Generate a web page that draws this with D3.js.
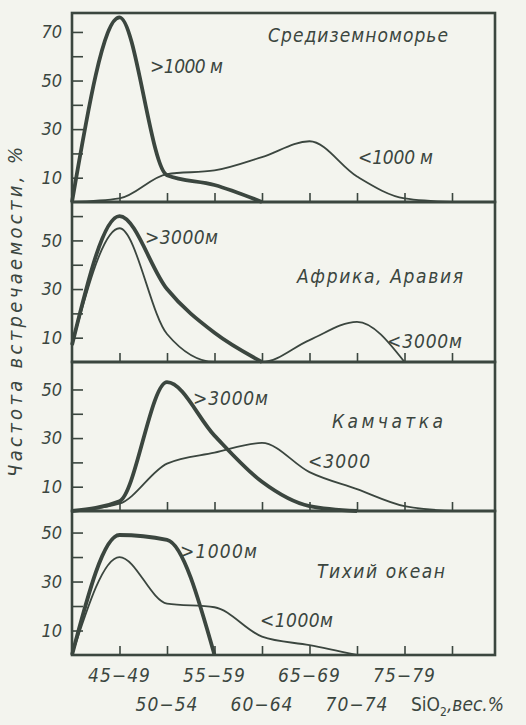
<!DOCTYPE html>
<html>
<head>
<meta charset="utf-8">
<script src="https://cdn.jsdelivr.net/npm/d3@7"></script>
<style>
body { margin: 0; background: #f3f4ee; }
text { font-family: "DejaVu Sans Condensed", "DejaVu Sans", sans-serif; font-style: italic; fill: #3b463f; }
</style>
</head>
<body>
<script>
// SiO2 classes, index 0 sits on the left edge of the frame
let classes = ["40-44", "45-49", "50-54", "55-59", "60-64", "65-69", "70-74", "75-79", "80-84"];
let tickLabels = ["45−49", "50−54", "55−59", "60−64", "65−69", "70−74", "75−79"];

let regions = ["Средиземноморье", "Африка, Аравия", "Камчатка", "Тихий океан"];
let deepLabels = [">1000 м", ">3000м", ">3000м", ">1000м"];
let shallowLabels = ["<1000 м", "<3000м", "<3000", "<1000м"];

// frequency, %  (thick = deep, thin = shallow)
let medDeep    = [0, 76, 11, 7, 0];
let medShallow = [0, 1.5, 11.5, 13, 18.5, 25, 10.5, 1.5, 0];
let afrDeep    = [7, 60, 30, 12, 0];
let afrShallow = [7, 55, 11.5, 0, 0, 9, 16.5, 0];
let kamDeep    = [0, 4, 53, 31, 12, 2, 0];
let kamShallow = [0, 3, 19.5, 24, 28, 16, 9, 2, 0];
let pacDeep    = [0, 49, 47, 0];
let pacShallow = [0, 40, 21, 19.5, 7.5, 4, 0];

let deepSeries = [medDeep, afrDeep, kamDeep, pacDeep];
let shallowSeries = [medShallow, afrShallow, kamShallow, pacShallow];

let yTicks = [[10, 20, 30, 40, 50, 60, 70],
              [10, 20, 30, 40, 50, 60],
              [10, 20, 30, 40, 50],
              [10, 20, 30, 40, 50]];
let yMax = [77.8, 65.8, 61.3, 58.8];

// layout
let width = 526, height = 725;
let ink = "#3b463f";
let frameLeft = 72, frameRight = 495;
let bounds = [13, 202, 362, 511, 655];
let titlePos   = [[268, 42, 180], [297, 283, 166], [332, 428, 111], [317, 578, 128]];
let deepPos    = [[150, 73, 73], [145, 244, 73], [193, 405, 75], [180, 558, 77]];
let shallowPos = [[358, 164, 75], [387, 348, 75], [308, 468, 62], [260, 627, 73]];

let svg = d3.select("body").append("svg")
  .attr("width", width)
  .attr("height", height);

svg.append("rect").attr("width", width).attr("height", height).attr("fill", "#f3f4ee");

let x = d3.scaleLinear().domain([0, 8]).range([72, 452]);

regions.forEach(function(name, p) {
  let top = bounds[p], bottom = bounds[p + 1];
  let y = d3.scaleLinear().domain([0, yMax[p]]).range([bottom, top]);
  let g = svg.append("g");

  // y ticks point inward, labels only on odd tens
  let ya = g.append("g")
    .attr("transform", "translate(" + frameLeft + ",0)")
    .call(d3.axisLeft(y).tickValues(yTicks[p]).tickSize(-11).tickPadding(10)
      .tickFormat(d => d % 20 === 10 ? d : ""));
  ya.attr("font-family", null).attr("font-size", null);
  ya.select(".domain").remove();
  ya.selectAll("line").attr("stroke", ink).attr("stroke-width", 1.6);
  ya.selectAll("text")
    .attr("font-size", 18)
    .style("font-style", "italic")
    .style("font-family", '"DejaVu Sans Condensed", "DejaVu Sans", sans-serif')
    .attr("fill", ink);

  // x ticks on the bottom edge
  let xa = g.append("g")
    .attr("transform", "translate(0," + bottom + ")")
    .call(d3.axisBottom(x).tickValues(d3.range(1, 9)).tickSize(-9).tickFormat(""));
  xa.select(".domain").remove();
  xa.selectAll("line").attr("stroke", ink).attr("stroke-width", 1.6);

  let line = d3.line()
    .x((d, i) => x(i))
    .y(d => y(d))
    .curve(d3.curveMonotoneX);

  g.append("path")
    .attr("d", line(shallowSeries[p]))
    .attr("fill", "none").attr("stroke", ink).attr("stroke-width", 1.8);
  g.append("path")
    .attr("d", line(deepSeries[p]))
    .attr("fill", "none").attr("stroke", ink).attr("stroke-width", 3.8)
    .attr("stroke-linejoin", "round");

  g.append("rect")
    .attr("x", frameLeft).attr("y", top)
    .attr("width", frameRight - frameLeft).attr("height", bottom - top)
    .attr("fill", "none").attr("stroke", ink).attr("stroke-width", 2.6);

  g.append("text").text(name)
    .attr("x", titlePos[p][0]).attr("y", titlePos[p][1])
    .attr("textLength", titlePos[p][2])
    .attr("font-size", 19);
  g.append("text").text(deepLabels[p])
    .attr("x", deepPos[p][0]).attr("y", deepPos[p][1])
    .attr("textLength", deepPos[p][2])
    .attr("font-size", 19);
  g.append("text").text(shallowLabels[p])
    .attr("x", shallowPos[p][0]).attr("y", shallowPos[p][1])
    .attr("textLength", shallowPos[p][2])
    .attr("font-size", 19);
});

// class labels under the last panel, in two staggered rows
svg.append("g").selectAll("text")
  .data(tickLabels)
  .enter().append("text")
  .attr("x", (d, i) => x(i + 1))
  .attr("y", (d, i) => i % 2 === 0 ? 682 : 711)
  .attr("text-anchor", "middle")
  .attr("font-size", 19)
  .attr("letter-spacing", 1)
  .text(d => d);

let xt = svg.append("text")
  .attr("x", 411).attr("y", 711)
  .attr("font-size", 19);
xt.append("tspan").text("SiO").attr("font-style", "normal");
xt.append("tspan").text("2").attr("font-size", 12).attr("dy", 5).attr("font-style", "normal");
xt.append("tspan").text(",вес.%").attr("dy", -5);

svg.append("text")
  .attr("transform", "translate(22,312) rotate(-90)")
  .attr("text-anchor", "middle")
  .attr("font-size", 20)
  .attr("textLength", 330)
  .text("Частота встречаемости, %");
</script>
</body>
</html>
